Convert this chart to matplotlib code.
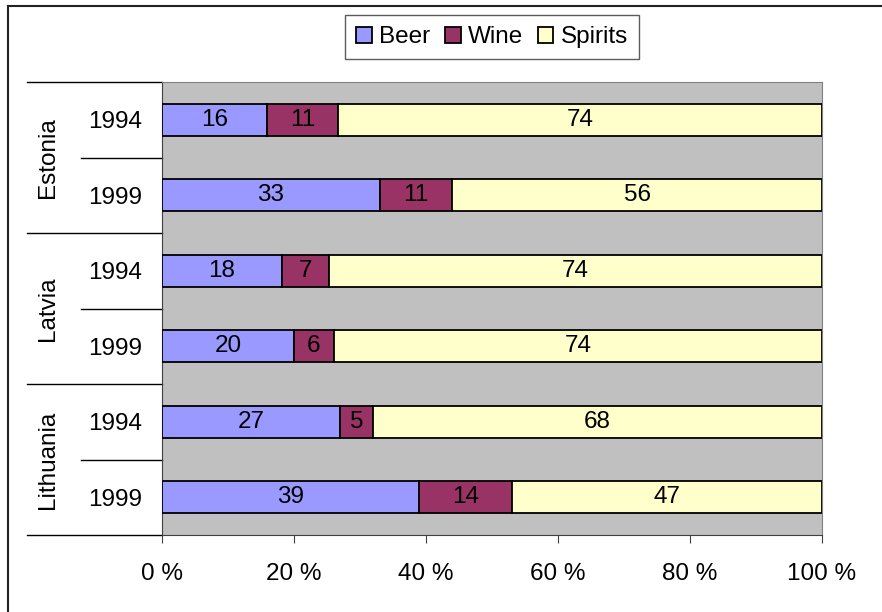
import numpy as np
import matplotlib.pyplot as plt
from matplotlib.lines import Line2D

plt.rcParams['font.family'] = ['Liberation Sans', 'DejaVu Sans']

countries = ['Estonia', 'Latvia', 'Lithuania']
years = ['1994', '1999', '1994', '1999', '1994', '1999']
beer = [16, 33, 18, 20, 27, 39]
wine = [11, 11, 7, 6, 5, 14]
spirits = [74, 56, 74, 74, 68, 47]

series = [('Beer', beer, '#9999FF'), ('Wine', wine, '#993366'), ('Spirits', spirits, '#FFFFCC')]
FS = 17.5

fig = plt.figure(figsize=(8.82, 6.12), dpi=100)
ax = fig.add_axes([162 / 882, 1 - 535 / 612, 660 / 882, 453 / 612])
ax.set_facecolor('#C0C0C0')

ypos = np.arange(len(years))
left = np.zeros(len(years))
tot = np.array(beer) + np.array(wine) + np.array(spirits)
for name, vals, col in series:
    vals = np.array(vals, dtype=float)
    w = vals / tot * 100
    ax.barh(ypos, w, left=left, height=0.42, color=col, edgecolor='black',
            linewidth=1.3, label=name, zorder=3)
    for y, l, ww, v in zip(ypos, left, w, vals):
        ax.text(l + ww / 2, y, f'{int(v)}', ha='center', va='center',
                fontsize=FS, zorder=4)
    left += w

ax.set_xlim(0, 100)
ax.set_ylim(5.5, -0.5)
ax.set_xticks([0, 20, 40, 60, 80, 100])
ax.set_xticklabels(['0 %', '20 %', '40 %', '60 %', '80 %', '100 %'], fontsize=FS)
ax.tick_params(axis='x', direction='out', length=6, color='#404040', pad=14)
ax.set_yticks(ypos)
ax.set_yticklabels(years, fontsize=FS)
ax.tick_params(axis='y', length=0, pad=14)

for s in ['top', 'right']:
    ax.spines[s].set_color('#808080')
for s in ['left', 'bottom']:
    ax.spines[s].set_color('#404040')

# category separators on the left
tr = ax.get_yaxis_transform()
for yb in [-0.5, 1.5, 3.5, 5.5]:
    ax.plot([-0.205, 0], [yb, yb], color='black', lw=1, transform=tr, clip_on=False)
for yb in [0.5, 2.5, 4.5]:
    ax.plot([-0.122, 0], [yb, yb], color='black', lw=1, transform=tr, clip_on=False)
for i, c in enumerate(countries):
    ax.text(-0.172, 2 * i + 0.5, c, rotation=90, ha='center', va='center',
            fontsize=FS, transform=tr)

leg = ax.legend(loc='lower center', bbox_to_anchor=(0.5, 1.05), ncol=3, fontsize=FS,
                frameon=True, fancybox=False, edgecolor='#333333', handlelength=0.65,
                handleheight=0.65, handletextpad=0.3, columnspacing=0.6,
                borderpad=0.45, borderaxespad=0)
leg.get_frame().set_linewidth(1)

# outer border (only left and top visible)
fig.add_artist(Line2D([8 / 882, 8 / 882], [0, 1 - 6 / 612], color='#222222', lw=1.5))
fig.add_artist(Line2D([8 / 882, 1], [1 - 6 / 612, 1 - 6 / 612], color='#222222', lw=1.5))

fig.savefig('out.png', dpi=100)
